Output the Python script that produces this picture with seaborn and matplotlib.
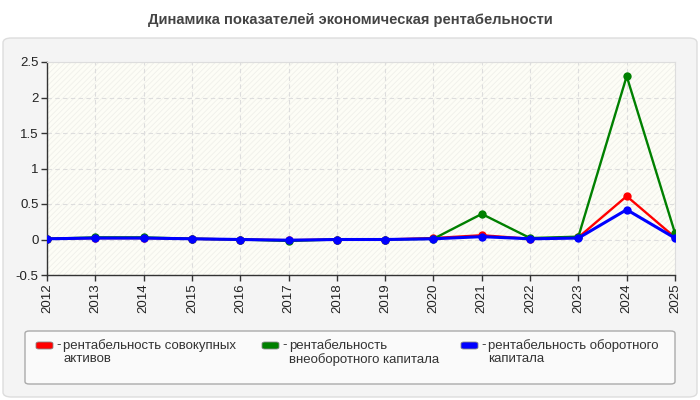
import matplotlib
matplotlib.use("Agg")
import matplotlib.pyplot as plt
import seaborn as sns
import pandas as pd
from matplotlib.patches import FancyBboxPatch

years = [2012, 2013, 2014, 2015, 2016, 2017, 2018, 2019, 2020, 2021, 2022, 2023, 2024, 2025]
total_assets = [0.01, 0.02, 0.02, 0.01, 0.0, -0.01, 0.0, 0.0, 0.02, 0.06, 0.01, 0.03, 0.61, 0.03]
noncurrent_capital = [0.01, 0.03, 0.03, 0.01, 0.0, -0.02, 0.0, 0.0, 0.01, 0.36, 0.02, 0.04, 2.30, 0.09]
working_capital = [0.01, 0.02, 0.02, 0.01, 0.0, -0.01, 0.0, 0.0, 0.01, 0.04, 0.01, 0.02, 0.42, 0.02]

series_names = ["рентабельность совокупных\nактивов",
                "рентабельность\nвнеоборотного капитала",
                "рентабельность оборотного\nкапитала"]
colors = ["#ff0000", "#008000", "#0000ff"]
yticks = [-0.5, 0, 0.5, 1, 1.5, 2, 2.5]
ytick_labels = ["-0.5", "0", "0.5", "1", "1.5", "2", "2.5"]
title = "Динамика показателей экономическая рентабельности"

sns.set_theme(style="white")
plt.rcParams["font.family"] = ["Liberation Sans", "DejaVu Sans"]

df = pd.DataFrame({"year": years * 3,
                   "value": total_assets + noncurrent_capital + working_capital,
                   "series": [series_names[0]] * len(years) + [series_names[1]] * len(years)
                             + [series_names[2]] * len(years)})

fig = plt.figure(figsize=(7, 4), dpi=100)
fig.patch.set_facecolor("white")

# outer panel
panel = FancyBboxPatch((3 / 700, 3 / 400), 694 / 700, 359 / 400,
                       boxstyle="round,pad=0,rounding_size=0.012",
                       transform=fig.transFigure, facecolor="#f4f4f4",
                       edgecolor="#dddddd", linewidth=1, zorder=-5)
fig.patches.append(panel)

fig.text(0.5, 1 - 20 / 400, title, ha="center", va="center", fontsize=10.6,
         fontweight="bold", color="#444444")

ax = fig.add_axes([47 / 700, 1 - 275 / 400, 628 / 700, 213 / 400])
ax.set_zorder(5)
ax.set_facecolor("#fdfdf6")
plt.rcParams["hatch.linewidth"] = 0.6
ax.fill_between([2012, 2025], -0.5, 2.5, facecolor="none", edgecolor="#f0f0ea",
                hatch="//////", linewidth=0, zorder=0)

sns.lineplot(data=df, x="year", y="value", hue="series", palette=colors,
             marker="o", markersize=6, markeredgewidth=0, linewidth=1.7,
             ax=ax, legend=False, zorder=3)
for ln in ax.get_lines()[2:3]:
    ln.set_linewidth(2.2)

ax.set_xlim(2012, 2025)
ax.set_ylim(-0.5, 2.5)
ax.set_xticks(years)
ax.set_xticklabels([str(y) for y in years], rotation=90, fontsize=9.5, color="#222222")
ax.set_yticks(yticks)
ax.set_yticklabels(ytick_labels, fontsize=9.5, color="#222222")
ax.set_xlabel("")
ax.set_ylabel("")
ax.grid(True, color="#dddddd", linestyle=(0, (4, 3)), linewidth=0.8)
ax.set_axisbelow(True)
for s in ["top", "right"]:
    ax.spines[s].set_color("#dddddd")
    ax.spines[s].set_linewidth(0.8)
for s in ["left", "bottom"]:
    ax.spines[s].set_color("#333333")
    ax.spines[s].set_linewidth(1)
ax.tick_params(axis="both", which="both", length=4, width=1, color="#333333",
               direction="out", pad=2, bottom=True, left=True)

# legend box
lb = FancyBboxPatch((25 / 700, 1 - 384 / 400), 650 / 700, 53 / 400,
                    boxstyle="round,pad=0,rounding_size=0.006",
                    transform=fig.transFigure, facecolor="#fafafa",
                    edgecolor="#aaaaaa", linewidth=1, zorder=1)
fig.patches.append(lb)
lx = [36, 262, 461]
for x0, name, c in zip(lx, series_names, colors):
    sw = FancyBboxPatch((x0 / 700, 1 - 349 / 400), 17 / 700, 7 / 400,
                        boxstyle="round,pad=0,rounding_size=0.004",
                        transform=fig.transFigure, facecolor=c,
                        edgecolor="#888888", linewidth=0.6, zorder=2)
    fig.patches.append(sw)
    fig.text((x0 + 20) / 700, 1 - 345 / 400, "-", ha="left", va="center",
             fontsize=9.5, color="#333333")
    fig.text((x0 + 27) / 700, 1 - 339 / 400, name, ha="left", va="top",
             fontsize=9.5, color="#333333", linespacing=1.1)

fig.savefig("out.png", dpi=100, facecolor=fig.get_facecolor())
